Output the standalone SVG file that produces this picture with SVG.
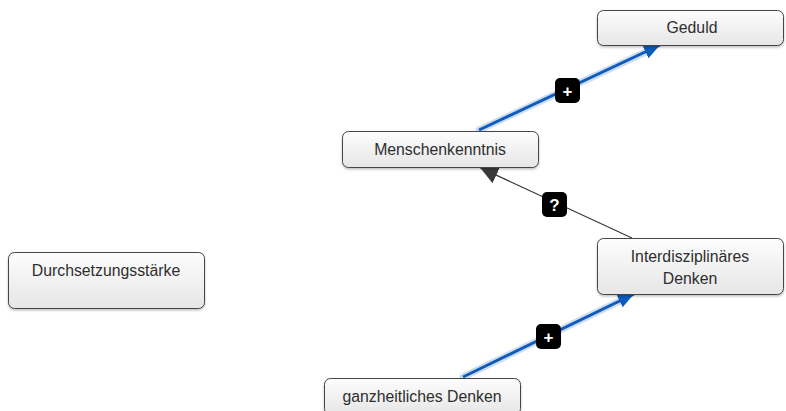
<svg xmlns="http://www.w3.org/2000/svg" width="786" height="411" viewBox="0 0 786 411">
  <defs>
    <linearGradient id="boxFill" x1="0" y1="0" x2="0" y2="1">
      <stop offset="0" stop-color="#fdfdfd"/>
      <stop offset="1" stop-color="#e6e6e6"/>
    </linearGradient>
    <filter id="shadow" x="-10%" y="-20%" width="120%" height="150%">
      <feDropShadow dx="0" dy="1.5" stdDeviation="1.2" flood-color="#000" flood-opacity="0.25"/>
    </filter>
    <marker id="headBlue" markerUnits="userSpaceOnUse" markerWidth="18" markerHeight="16" refX="16" refY="8" orient="auto">
      <path d="M0,1 L16,8 L0,15 z" fill="#0b5cbd"/>
    </marker>
    <marker id="headGray" markerUnits="userSpaceOnUse" markerWidth="20" markerHeight="20" refX="18" refY="10" orient="auto">
      <path d="M0,1 L18,10 L0,19 z" fill="#3a3a3a"/>
    </marker>
  </defs>
  <style>
    .box { fill: url(#boxFill); stroke: #444; stroke-width: 1; filter: url(#shadow); }
    .lbl { font-family: "Liberation Sans", Arial, sans-serif; font-size: 15.8px; fill: #2e2e2e; text-anchor: middle; }
    .halo { stroke: #cfdcef; stroke-width: 7; stroke-linecap: round; fill: none; }
    .blue { stroke: #0b5cbd; stroke-width: 3; fill: none; marker-end: url(#headBlue); }
    .gray { stroke: #3a3a3a; stroke-width: 1.2; fill: none; marker-end: url(#headGray); }
    .tag { fill: #000; }
    .tagTxt { font-family: "Liberation Sans", Arial, sans-serif; font-size: 17px; font-weight: bold; fill: #fff; text-anchor: middle; }
  </style>
  <rect width="786" height="411" fill="#fff"/>

  <g id="connectors">
    <!-- Menschenkenntnis -> Geduld -->
    <line class="halo" x1="479" y1="130" x2="648" y2="51"/>
    <line class="blue" x1="479" y1="130" x2="660" y2="45"/>
    <!-- Interdisziplinäres Denken -> Menschenkenntnis -->
    <line class="gray" x1="632" y1="238" x2="480" y2="167.6"/>
    <!-- ganzheitliches Denken -> Interdisziplinäres Denken -->
    <line class="halo" x1="463" y1="377" x2="622" y2="300"/>
    <line class="blue" x1="463" y1="377" x2="634" y2="294"/>

    <g id="tag-plus-1">
      <rect class="tag" x="555" y="78" width="25" height="25" rx="5"/>
      <text class="tagTxt" x="567.5" y="96.5">+</text>
    </g>
    <g id="tag-question">
      <rect class="tag" x="542" y="192" width="25" height="25" rx="5"/>
      <text class="tagTxt" x="554.5" y="210.5">?</text>
    </g>
    <g id="tag-plus-2">
      <rect class="tag" x="536" y="324" width="25" height="25" rx="5"/>
      <text class="tagTxt" x="548.5" y="342.5">+</text>
    </g>
  </g>

  <g id="node-geduld">
    <rect class="box" x="597.5" y="10.5" width="186" height="35" rx="6"/>
    <text class="lbl" x="692" y="33">Geduld</text>
  </g>

  <g id="node-menschenkenntnis">
    <rect class="box" x="342.5" y="131.5" width="196" height="36" rx="6"/>
    <text class="lbl" x="440" y="155">Menschenkenntnis</text>
  </g>

  <g id="node-durchsetzungsstaerke">
    <rect class="box" x="8.5" y="252.5" width="196" height="56" rx="6"/>
    <text class="lbl" x="106" y="276">Durchsetzungsstärke</text>
  </g>

  <g id="node-interdisziplinaeres-denken">
    <rect class="box" x="597.5" y="238.5" width="186" height="56" rx="6"/>
    <text class="lbl" x="690" y="262">Interdisziplinäres</text>
    <text class="lbl" x="690" y="284">Denken</text>
  </g>

  <g id="node-ganzheitliches-denken">
    <rect class="box" x="324.5" y="378.5" width="196" height="36" rx="6"/>
    <text class="lbl" x="422" y="402">ganzheitliches Denken</text>
  </g>
</svg>
